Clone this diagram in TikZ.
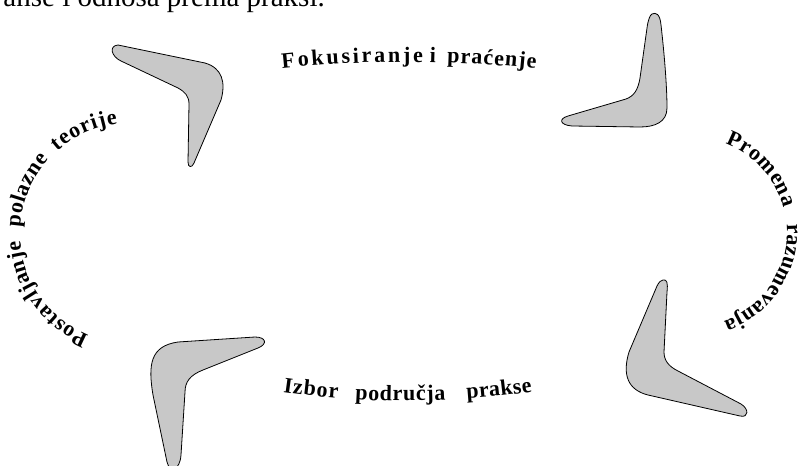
\documentclass[tikz,border=0pt]{standalone}
\usepackage{fontspec}
\setmainfont{Liberation Serif}
\usetikzlibrary{decorations.text}
\definecolor{boomgray}{RGB}{200,200,200}
\newcommand\wafont{\bfseries\fontsize{22}{25}\selectfont}
\tikzset{
  boom/.style={fill=boomgray, draw=black, line width=0.8pt, line join=round},
  wordarc/.style={decorate, decoration={text along path, text={|\wafont|#1}, text align={fit to path}}},
  wordmid/.style={decorate, decoration={text along path, text={|\wafont|#1}, text align={center}}}
}
\begin{document}
\begin{tikzpicture}[x=1pt,y=1pt]
\useasboundingbox (0,0) rectangle (799,-465);
\clip (0,0) rectangle (799,-465);
% cropped line of body text at the top
\node[anchor=base east, inner sep=0pt, font=\fontsize{29}{32}\selectfont] (frag) at (325,-7) {anse i odnosa prema praksi.};
% boomerangs
\draw[boom] (118,-45) -- (205,-63) .. controls (222,-68) and (226,-82) .. (221,-100) -- (194,-163) .. controls (192,-168) and (188,-168) .. (188,-162) -- (189,-104) .. controls (189,-96) and (185,-92) .. (178,-88) -- (121,-61) .. controls (112,-57) and (108,-46) .. (118,-45) -- cycle;
\draw[boom] (652,-14) .. controls (656,-12) and (660,-14) .. (661,-25) .. controls (665,-60) and (667,-90) .. (667,-108) .. controls (667,-122) and (655,-127) .. (640,-127) -- (572,-126) .. controls (560,-125) and (558,-119) .. (568,-116) -- (626,-99) .. controls (634,-96) and (638,-90) .. (640,-78) -- (647,-28) .. controls (648,-20) and (650,-15) .. (652,-14) -- cycle;
\draw[boom] (255,-337) .. controls (266,-337) and (268,-344) .. (258,-348) -- (203,-370) .. controls (190,-375) and (185,-382) .. (185,-392) -- (181,-455) .. controls (180,-470) and (170,-474) .. (167,-462) -- (153,-395) .. controls (148,-365) and (150,-346) .. (178,-342) -- cycle;
\draw[boom] (663,-280) .. controls (667,-279) and (668,-283) .. (667,-292) -- (664,-352) .. controls (664,-360) and (668,-366) .. (678,-371) -- (741,-404) .. controls (749,-409) and (749,-418) .. (740,-416) -- (648,-395) .. controls (628,-390) and (622,-375) .. (629,-352) -- (657,-286) .. controls (659,-282) and (661,-280) .. (663,-280) -- cycle;
% top text
\coordinate (ctop) at (408,-1286);
\path[wordarc=Fokusiranje] ([shift={(95.9:1224)}]ctop) arc[start angle=95.9, end angle=89.3, radius=1224];
\path[wordmid=i] ([shift={(89.1:1224)}]ctop) arc[start angle=89.1, end angle=88.6, radius=1224];
\path[wordarc=praćenje] ([shift={(88.17:1224)}]ctop) arc[start angle=88.17, end angle=84.0, radius=1224];
% bottom text
\coordinate (cbot) at (406,458);
\path[wordarc=Izbor] ([shift={(261.77:859)}]cbot) arc[start angle=261.77, end angle=265.45, radius=859];
\path[wordarc=područja] ([shift={(266.6:859)}]cbot) arc[start angle=266.6, end angle=272.65, radius=859];
\path[wordarc=prakse] ([shift={(274.07:859)}]cbot) arc[start angle=274.07, end angle=278.45, radius=859];
% left text
\coordinate (cleft) at (130,-233.5);
\path[wordarc=Postavljanje] ([shift={(248:110)}]cleft) arc[start angle=248, end angle=184, radius=110];
\path[wordarc=polazne] ([shift={(177:110)}]cleft) arc[start angle=177, end angle=137.5, radius=110];
\path[wordarc=teorije] ([shift={(131.5:110)}]cleft) arc[start angle=131.5, end angle=96.5, radius=110];
% right text
\coordinate (cright) at (693,-232.5);
\path[wordarc=Promena] ([shift={(70:94)}]cright) arc[start angle=70, end angle=15, radius=94];
\path[wordarc=razumevanja] ([shift={(5:94)}]cright) arc[start angle=5, end angle=-71, radius=94];
\end{tikzpicture}
\end{document}
